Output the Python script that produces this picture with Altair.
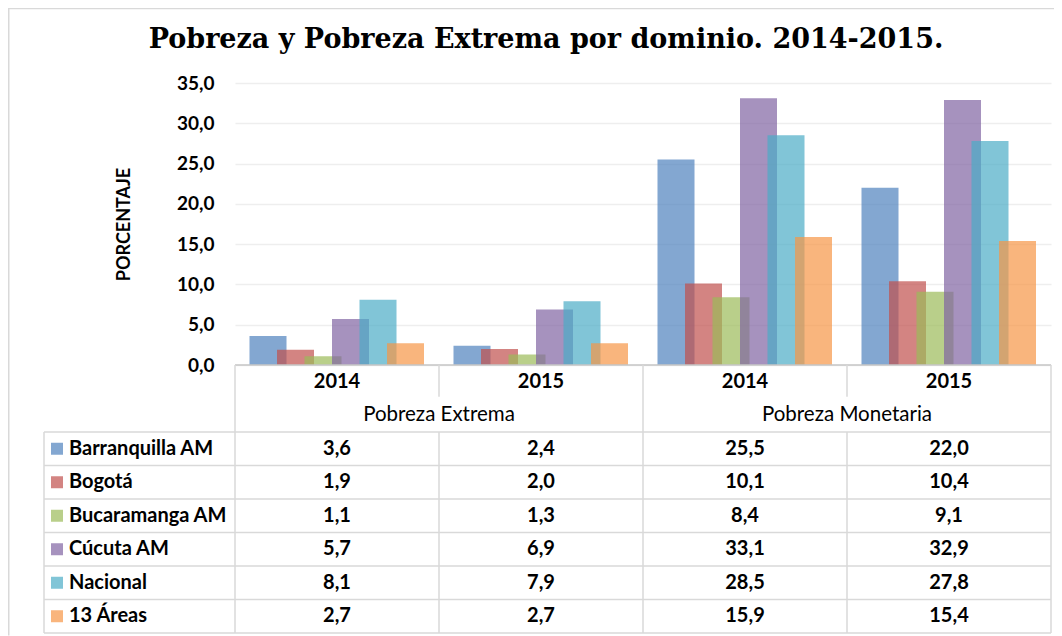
import altair as alt
import pandas as pd

# ---------------- data ----------------
title_text = "Pobreza y Pobreza Extrema por dominio. 2014-2015."
groups = ["Pobreza Extrema", "Pobreza Monetaria"]
years = ["2014", "2015", "2014", "2015"]
domains = ["Barranquilla AM", "Bogotá", "Bucaramanga AM", "Cúcuta AM", "Nacional", "13 Áreas"]
colors = ["#4F81BD", "#C0504D", "#9BBB59", "#8064A2", "#4BACC6", "#F79646"]
pe_2014 = [3.6, 1.9, 1.1, 5.7, 8.1, 2.7]
pe_2015 = [2.4, 2.0, 1.3, 6.9, 7.9, 2.7]
pm_2014 = [25.5, 10.1, 8.4, 33.1, 28.5, 15.9]
pm_2015 = [22.0, 10.4, 9.1, 32.9, 27.8, 15.4]
columns = [pe_2014, pe_2015, pm_2014, pm_2015]

# ---------------- layout ----------------
W, H = 816, 282            # plot area (bars)
PAD_L, PAD_T, PAD_R, PAD_B = 227, 75, 3, 271
COL_PX = W / 4             # width of one table column
ROW_PX = 33.5              # table row height
N_ROWS = 8
LABEL_W = 191 / COL_PX     # label column width (column units)
BAR_W = 37 / COL_PX
BAR_STEP = 27.5 / COL_PX
BAR_FIRST = 33 / COL_PX    # centre of first bar inside a group

FONT = "Lato"

def fmt(v):
    return f"{v:.1f}".replace(".", ",")

bar_rows, val_rows = [], []
for c, vals in enumerate(columns):
    for s, v in enumerate(vals):
        centre = c + BAR_FIRST + s * BAR_STEP
        bar_rows.append(dict(series=domains[s], value=v, base=0,
                             x0=centre - BAR_W / 2, x1=centre + BAR_W / 2))
        val_rows.append(dict(x=c + 0.5, row=2.5 + s, label=fmt(v)))
bars_df = pd.DataFrame(bar_rows)
vals_df = pd.DataFrame(val_rows)

head_df = pd.DataFrame(dict(x=[c + 0.5 for c in range(4)], row=[0.5] * 4, label=years))
grp_df = pd.DataFrame(dict(x=[1, 3], row=[1.5, 1.5], label=groups))
names_df = pd.DataFrame(dict(series=domains,
                             row=[2.5 + i for i in range(len(domains))],
                             xt=[-LABEL_W + 25 / COL_PX] * len(domains),
                             xs=[-LABEL_W + 13 / COL_PX] * len(domains)))

LINE = "#d9d9d9"
h_rows = [dict(y=k, xa=-LABEL_W, xb=4, c=LINE) for k in range(2, N_ROWS + 1)]
h_rows.append(dict(y=0, xa=0, xb=4, c="#c6c6c6"))
# outer frame of the chart area (top edge)
frame_left = -PAD_L / COL_PX
frame_right = (W + PAD_R) / COL_PX
frame_top = -(H + PAD_T) / ROW_PX
frame_bottom = (PAD_B - 0.5) / ROW_PX
h_rows.append(dict(y=frame_top + 0.5 / ROW_PX, xa=frame_left, xb=frame_right, c="#d9d9d9"))
hl_df = pd.DataFrame(h_rows)
v_rows = [dict(x=-LABEL_W, ya=2, yb=8), dict(x=0, ya=0, yb=8), dict(x=2, ya=0, yb=8),
          dict(x=4, ya=0, yb=8), dict(x=1, ya=0, yb=0.95), dict(x=1, ya=2, yb=8),
          dict(x=3, ya=0, yb=0.95), dict(x=3, ya=2, yb=8),
          dict(x=frame_left + 0.75 / COL_PX, ya=frame_top, yb=frame_bottom)]
vl_df = pd.DataFrame(v_rows)

xs = alt.Scale(domain=[0, 4], nice=False, zero=False)
ys_bar = alt.Scale(domain=[0, 35], nice=False)
ys_tab = alt.Scale(domain=[0, N_ROWS], range=[H, H + N_ROWS * ROW_PX], nice=False, zero=False)
cs = alt.Scale(domain=domains, range=colors)

bars = alt.Chart(bars_df).mark_bar(opacity=0.7).encode(
    x=alt.X("x0:Q", scale=xs, axis=None),
    x2="x1:Q",
    y=alt.Y("value:Q", scale=ys_bar, axis=alt.Axis(
        values=list(range(0, 40, 5)),
        labelExpr="replace(format(datum.value, '.1f'), '.', ',')",
        domain=False, ticks=False, labelPadding=21,
        labelFont=FONT, labelFontSize=19, labelFontWeight="bold", labelColor="black",
        grid=True, gridColor="#eeeeee", gridWidth=1.5,
        title="PORCENTAJE", titleFont=FONT, titleFontSize=18, titleFontWeight="bold",
        titleColor="black", titlePadding=43)),
    y2="base:Q",
    color=alt.Color("series:N", scale=cs, legend=None),
)

hlines = alt.Chart(hl_df).mark_rule(strokeWidth=1.5).encode(
    x=alt.X("xa:Q", scale=xs, axis=None), x2="xb:Q",
    y=alt.Y("y:Q", scale=ys_tab, axis=None),
    color=alt.Color("c:N", scale=None),
)
vlines = alt.Chart(vl_df).mark_rule(strokeWidth=1.5, color=LINE).encode(
    x=alt.X("x:Q", scale=xs, axis=None),
    y=alt.Y("ya:Q", scale=ys_tab, axis=None), y2="yb:Q",
)

txt = dict(font=FONT, fontSize=20, fontWeight="bold", color="black", baseline="middle")
heads = alt.Chart(head_df).mark_text(**txt, align="center").encode(
    x=alt.X("x:Q", scale=xs, axis=None), y=alt.Y("row:Q", scale=ys_tab, axis=None), text="label:N")
grps = alt.Chart(grp_df).mark_text(font=FONT, fontSize=20.5, fontWeight="normal", color="black",
                                   baseline="middle", align="center").encode(
    x=alt.X("x:Q", scale=xs, axis=None), y=alt.Y("row:Q", scale=ys_tab, axis=None), text="label:N")
vals = alt.Chart(vals_df).mark_text(**txt, align="center").encode(
    x=alt.X("x:Q", scale=xs, axis=None), y=alt.Y("row:Q", scale=ys_tab, axis=None), text="label:N")
names = alt.Chart(names_df).mark_text(**txt, align="left").encode(
    x=alt.X("xt:Q", scale=xs, axis=None), y=alt.Y("row:Q", scale=ys_tab, axis=None), text="series:N")
squares = alt.Chart(names_df).mark_square(size=144, opacity=0.7).encode(
    x=alt.X("xs:Q", scale=xs, axis=None), y=alt.Y("row:Q", scale=ys_tab, axis=None),
    color=alt.Color("series:N", scale=cs, legend=None),
)

chart = alt.layer(bars, hlines, vlines, heads, grps, vals, names, squares).resolve_scale(
    y="independent"
).properties(
    width=W, height=H,
    title=alt.TitleParams(text=title_text, font="DejaVu Serif", fontSize=27, fontWeight="bold",
                          color="black", anchor="middle", frame="group", dx=-97,
                          baseline="alphabetic", offset=-68),
    autosize=alt.AutoSizeParams(type="none"),
    padding={"left": PAD_L, "top": PAD_T, "right": PAD_R, "bottom": PAD_B},
    background="white",
).configure_view(stroke=None)

chart.save("out.html", embed_options={"renderer": "svg", "actions": False})
